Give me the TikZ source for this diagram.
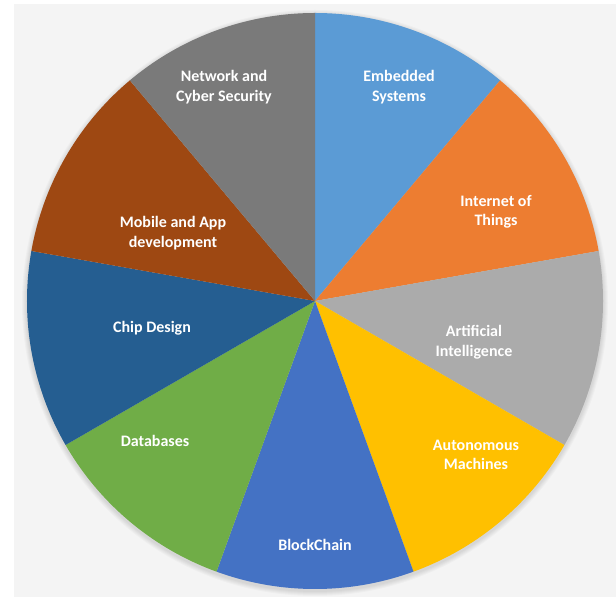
\documentclass[tikz,border=0pt]{standalone}
\usepackage{fontspec}
\setmainfont{Carlito}
\usetikzlibrary{calc}
\definecolor{cEmb}{HTML}{5B9BD5}
\definecolor{cIoT}{HTML}{ED7D31}
\definecolor{cAI}{HTML}{ABABAB}
\definecolor{cAuto}{HTML}{FFC000}
\definecolor{cBlock}{HTML}{4472C4}
\definecolor{cDb}{HTML}{70AD47}
\definecolor{cChip}{HTML}{255E91}
\definecolor{cMob}{HTML}{9E4812}
\definecolor{cNet}{HTML}{7A7A7A}
\definecolor{panel}{HTML}{F4F4F4}
\tikzset{
  lbl/.style={text=white, font=\fontsize{16}{19.5}\selectfont\bfseries, align=center, inner sep=0pt},
}
\begin{document}
\begin{tikzpicture}[x=1pt,y=1pt]
\useasboundingbox (0,0) rectangle (616,597);
\fill[white] (0,0) rectangle (616,597);
\fill[panel] (14,0) rectangle (616,593);
\coordinate (c) at (315,296);
% soft shadow
\foreach \k in {1,...,5}{
  \fill[black, opacity=0.025] ($(c)+(0,-2)$) circle ({288+\k});
}
\def\R{288}
\fill[cEmb]   (c) -- ++(90:\R)  arc (90:50:\R)   -- cycle;
\fill[cIoT]   (c) -- ++(50:\R)  arc (50:10:\R)   -- cycle;
\fill[cAI]    (c) -- ++(10:\R)  arc (10:-30:\R)  -- cycle;
\fill[cAuto]  (c) -- ++(-30:\R) arc (-30:-70:\R) -- cycle;
\fill[cBlock] (c) -- ++(-70:\R) arc (-70:-110:\R) -- cycle;
\fill[cDb]    (c) -- ++(-110:\R) arc (-110:-150:\R) -- cycle;
\fill[cChip]  (c) -- ++(-150:\R) arc (-150:-190:\R) -- cycle;
\fill[cMob]   (c) -- ++(170:\R) arc (170:130:\R) -- cycle;
\fill[cNet]   (c) -- ++(130:\R) arc (130:90:\R) -- cycle;

\node[lbl] (emb)   at (399,510) {Embedded\\Systems};
\node[lbl] (iot)   at (496,385) {Internet of\\Things};
\node[lbl] (ai)    at (474,255) {Artificial\\Intelligence};
\node[lbl] (auto)  at (476,142) {Autonomous\\Machines};
\node[lbl] (block) at (315,52)  {BlockChain};
\node[lbl] (db)    at (155,156) {Databases};
\node[lbl] (chip)  at (152,269) {Chip Design};
\node[lbl] (mob)   at (173,364) {Mobile and App\\development};
\node[lbl] (net)   at (224,510) {Network and\\Cyber Security};
\end{tikzpicture}
\end{document}
